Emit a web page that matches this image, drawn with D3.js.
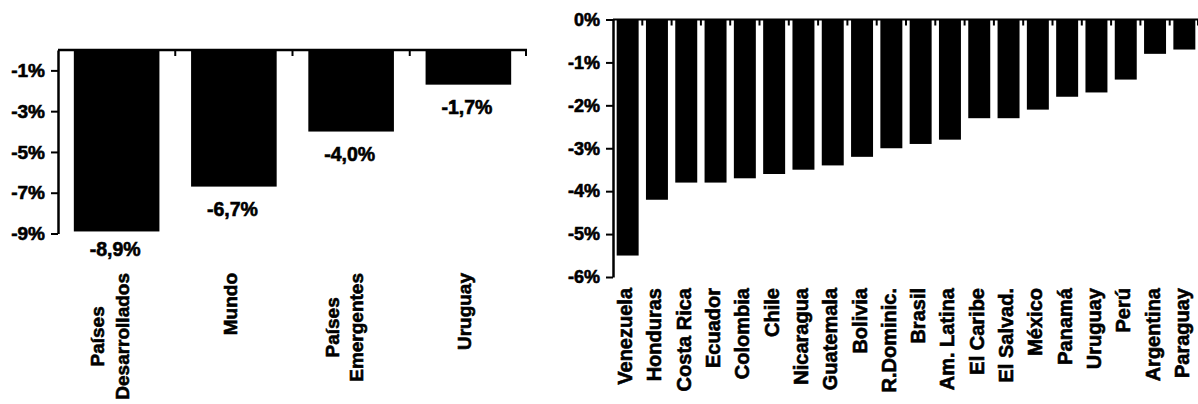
<!DOCTYPE html>
<html>
<head>
<meta charset="utf-8">
<script src="https://cdn.jsdelivr.net/npm/d3@7"></script>
<style>
  html, body { margin: 0; padding: 0; background: #fff; }
  svg { display: block; }
  text { font-family: Arial, "Liberation Sans", Helvetica, sans-serif; font-weight: bold; fill: #000;
         stroke: #000; stroke-width: 0.6px; }
</style>
</head>
<body>
<svg id="chart" width="1198" height="404"></svg>
<script>
// Left panel: world aggregates vs Uruguay
const leftCategories = [["Países", "Desarrollados"], ["Mundo"], ["Países", "Emergentes"], ["Uruguay"]];
const leftValues = [-8.9, -6.7, -4.0, -1.7];
const leftTicks = [-1, -3, -5, -7, -9];

// Right panel: Latin American countries
const rightCategories = ["Venezuela", "Honduras", "Costa Rica", "Ecuador", "Colombia", "Chile",
  "Nicaragua", "Guatemala", "Bolivia", "R.Dominic.", "Brasil", "Am. Latina", "El Caribe",
  "El Salvad.", "México", "Panamá", "Uruguay", "Perú", "Argentina", "Paraguay"];
const rightValues = [-5.5, -4.2, -3.8, -3.8, -3.7, -3.6, -3.5, -3.4, -3.2, -3.0, -2.9, -2.8,
  -2.3, -2.3, -2.1, -1.8, -1.7, -1.4, -0.8, -0.7];
const rightTicks = [0, -1, -2, -3, -4, -5, -6];

const svg = d3.select("#chart");
const fmtTick = d => d + "%";
const fmtValue = d => d.toFixed(1).replace(".", ",") + "%";

function panel(opts) {
  const g = svg.append("g");
  const x = d3.scaleBand()
    .domain(d3.range(opts.values.length))
    .range(opts.xRange)
    .paddingInner(opts.padInner)
    .paddingOuter(opts.padInner / 2);
  const y = d3.scaleLinear().domain(opts.yDomain).range(opts.yRange);
  const step = x.step();
  const x0 = opts.xRange[0];

  // bars
  g.selectAll("rect.bar").data(opts.values).join("rect")
    .attr("class", "bar")
    .attr("x", (d, i) => x(i))
    .attr("width", x.bandwidth())
    .attr("y", y(0))
    .attr("height", d => y(d) - y(0))
    .attr("fill", "#000");

  // zero line along the top with category boundary ticks
  g.append("line")
    .attr("x1", x0).attr("x2", opts.xRange[1])
    .attr("y1", y(0)).attr("y2", y(0))
    .attr("stroke", "#000").attr("stroke-width", opts.lineW);
  g.selectAll("line.bnd").data(d3.range(1, opts.values.length + 1)).join("line")
    .attr("class", "bnd")
    .attr("x1", i => Math.min(x0 + i * step, opts.xRange[1] - 1))
    .attr("x2", i => Math.min(x0 + i * step, opts.xRange[1] - 1))
    .attr("y1", y(0)).attr("y2", y(0) + 6)
    .attr("stroke", "#000").attr("stroke-width", 2);

  // value axis
  const ax = g.append("g")
    .attr("transform", `translate(${x0},0)`)
    .call(d3.axisLeft(y).tickValues(opts.ticks).tickFormat(fmtTick)
      .tickSize(7).tickSizeOuter(0).tickPadding(6));
  ax.select(".domain").attr("stroke", "#000").attr("stroke-width", 2.5);
  ax.selectAll(".tick line").attr("stroke", "#000").attr("stroke-width", 2);
  ax.selectAll(".tick text")
    .style("font-family", "Arial, 'Liberation Sans', sans-serif")
    .style("font-weight", "bold")
    .style("font-size", opts.tickFont + "px")
    .attr("fill", "#000");

  return { g, x, y };
}

// ---- left panel ----
const L = panel({
  values: leftValues, xRange: [58, 527], padInner: 0.27,
  yDomain: [-9, 0], yRange: [233.5, 50], ticks: leftTicks, tickFont: 19, lineW: 2.5
});

// value labels under each bar
L.g.selectAll("text.val").data(leftValues).join("text")
  .attr("class", "val")
  .attr("x", (d, i) => L.x(i) + L.x.bandwidth() / 2 - 1.5)
  .attr("y", d => Math.min(L.y(d) + 29, L.y(-9) + 22))
  .attr("text-anchor", "middle")
  .style("font-size", "19.5px")
  .text(fmtValue);

// category labels: multi-line blocks, lines centred on the longest one
leftCategories.forEach((lines, i) => {
  const cx = L.x(i) + L.x.bandwidth() / 2;
  const grp = L.g.append("g");
  const texts = lines.map((s, j) => grp.append("text")
    .style("font-size", "19px")
    .attr("text-anchor", "middle")
    .text(s));
  const longest = d3.max(texts, t => t.node().getComputedTextLength());
  const yMid = 273 + longest / 2;
  const n = lines.length;
  texts.forEach((t, j) => {
    const base = cx + (j - (n - 1) / 2) * 24.5 + (n === 1 ? 3 : 0);
    t.attr("transform", `translate(${base},${yMid}) rotate(-90)`);
  });
});

// ---- right panel ----
const R = panel({
  values: rightValues, xRange: [613, 1199], padInner: 0.25,
  yDomain: [-6, 0], yRange: [277, 19.5], ticks: rightTicks, tickFont: 18, lineW: 2
});

R.g.selectAll("text.cat").data(rightCategories).join("text")
  .attr("class", "cat")
  .attr("transform", (d, i) => `translate(${R.x(i) + R.x.bandwidth() / 2 + 4.5},288) rotate(-90)`)
  .attr("text-anchor", "end")
  .style("font-size", "20px")
  .text(d => d);
</script>
</body>
</html>
